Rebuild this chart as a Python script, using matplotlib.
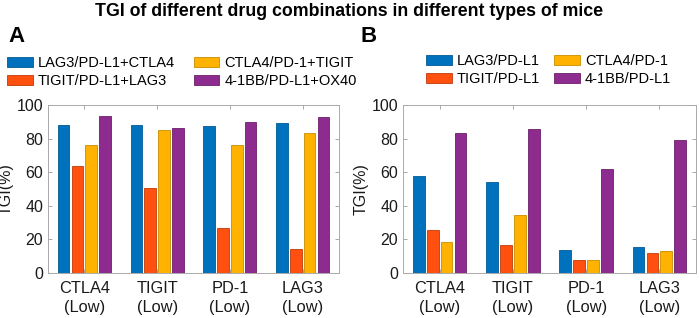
import numpy as np
import matplotlib
matplotlib.use('Agg')
import matplotlib.pyplot as plt

plt.rcParams['font.family'] = ['Liberation Sans', 'DejaVu Sans']

# ---------------------------------------------------------------
# data
# ---------------------------------------------------------------
categories = ['CTLA4\n(Low)', 'TIGIT\n(Low)', 'PD-1\n(Low)', 'LAG3\n(Low)']

labels_a = ['LAG3/PD-L1+CTLA4', 'TIGIT/PD-L1+LAG3', 'CTLA4/PD-1+TIGIT', '4-1BB/PD-L1+OX40']
lag3_ctla4 = [88.0, 88.0, 87.5, 89.5]
tigit_lag3 = [63.6, 50.7, 26.8, 14.5]
ctla4_tigit = [76.1, 85.1, 76.1, 83.5]
bb_ox40 = [93.3, 86.5, 89.7, 93.0]

labels_b = ['LAG3/PD-L1', 'TIGIT/PD-L1', 'CTLA4/PD-1', '4-1BB/PD-L1']
lag3_pdl1 = [57.7, 54.3, 13.5, 15.7]
tigit_pdl1 = [25.8, 16.5, 8.0, 12.1]
ctla4_pd1 = [18.5, 34.4, 7.6, 13.1]
bb_pdl1 = [83.5, 85.5, 62.2, 79.1]

colors = ['#0072BD', '#FF5010', '#FFB300', '#8E2B8E']
edges = ['#005A96', '#C23A08', '#C98C00', '#6A1F6A']

W, H = 699, 318
fig = plt.figure(figsize=(W / 100, H / 100), dpi=100)


def panel(rect, series, labels):
    ax = fig.add_axes(rect)
    x = np.arange(1, len(categories) + 1)
    step = 0.19
    width = 0.16
    handles = []
    for i, vals in enumerate(series):
        b = ax.bar(x + (i - 1.5) * step, vals, width, color=colors[i],
                   edgecolor=edges[i], linewidth=0.6, label=labels[i])
        handles.append(b)
    ax.set_xlim(0.5, 4.5)
    ax.set_ylim(0, 100)
    ax.set_yticks(np.arange(0, 101, 20))
    ax.set_xticks(x)
    ax.set_xticklabels(categories, fontsize=11.8, color='#1a1a1a', linespacing=1.3)
    ax.tick_params(axis='y', labelsize=11.5, labelcolor='#1a1a1a')
    ax.tick_params(direction='in', top=True, right=True, length=3,
                   color='#999999', width=0.6)
    ax.tick_params(axis='x', pad=6)
    for s in ax.spines.values():
        s.set_color('#AAAAAA')
        s.set_linewidth(0.7)
    ax.set_ylabel('TGI(%)', fontsize=11.5, color='#1a1a1a', labelpad=2)
    return ax, handles


ax_a, h_a = panel([48 / W, 1 - 273 / H, 291 / W, 168 / H],
                  [lag3_ctla4, tigit_lag3, ctla4_tigit, bb_ox40], labels_a)
ax_b, h_b = panel([403 / W, 1 - 273 / H, 293 / W, 168 / H],
                  [lag3_pdl1, tigit_pdl1, ctla4_pd1, bb_pdl1], labels_b)

leg_kw = dict(loc='upper left', ncol=2, frameon=False, fontsize=10.5,
              handlelength=1.75, handleheight=0.7, handletextpad=0.35,
              labelspacing=0.3, borderpad=0, borderaxespad=0)
fig.legend(h_a, labels_a, bbox_to_anchor=(7 / W, 1 - 56 / H),
           columnspacing=1.3, **leg_kw)
fig.legend(h_b, labels_b, bbox_to_anchor=(426 / W, 1 - 54 / H),
           columnspacing=1.0, **leg_kw)

fig.text(0.5, 1 - 12 / H, 'TGI of different drug combinations in different types of mice',
         ha='center', va='center', fontsize=12.8, fontweight='bold')
fig.text(8 / W, 1 - 36 / H, 'A', ha='left', va='center', fontsize=16, fontweight='bold')
fig.text(361 / W, 1 - 36 / H, 'B', ha='left', va='center', fontsize=16, fontweight='bold')

plt.savefig('out.png', dpi=100)
